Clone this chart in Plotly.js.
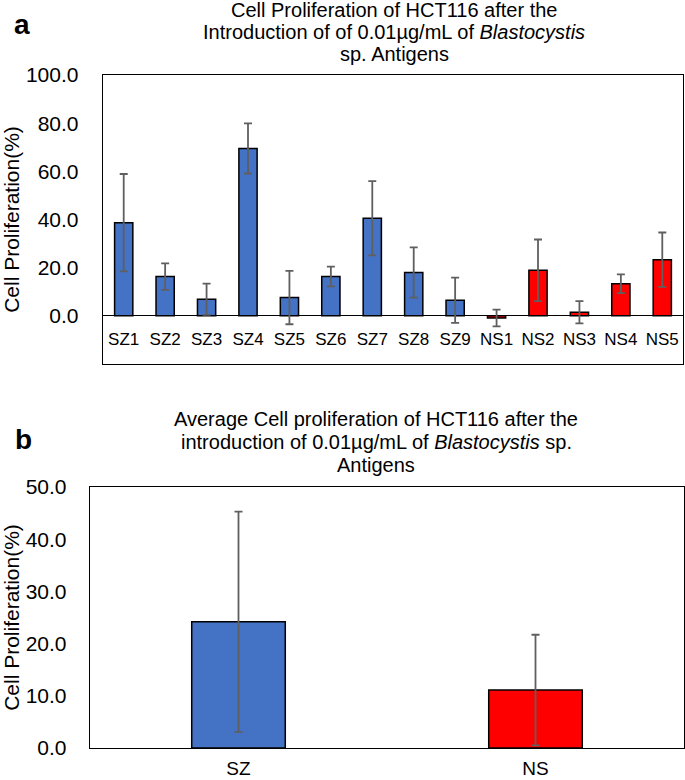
<!DOCTYPE html>
<html>
<head>
<meta charset="utf-8">
<script src="https://cdn.plot.ly/plotly-3.0.1.min.js"></script>
<style>html,body{margin:0;padding:0;background:#fff;}#chart{width:685px;height:780px;}</style>
</head>
<body>
<div id="chart"></div>
<script>
// ---- Panel a data ----
const szCategories = ["SZ1","SZ2","SZ3","SZ4","SZ5","SZ6","SZ7","SZ8","SZ9"];
const szValues     = [38.7, 16.3, 6.9, 69.5, 7.6, 16.3, 40.5, 18.0, 6.5];
const szErrors     = [20.2, 5.5, 6.5, 10.4, 11.1, 4.1, 15.4, 10.4, 9.4];
const nsCategories = ["NS1","NS2","NS3","NS4","NS5"];
const nsValues     = [-0.9, 18.9, 1.5, 13.3, 23.3];
const nsErrors     = [3.5, 12.8, 4.6, 3.9, 11.3];
const yTickValsA   = [-20, 0, 20, 40, 60, 80, 100];
const yTickTextA   = ["-20.0","0.0","20.0","40.0","60.0","80.0","100.0"];

// ---- Panel b data ----
const groupCategories = ["SZ","NS"];
const groupValues     = [24.2, 11.1];
const groupErrors     = [21.1, 10.6];
const yTickValsB      = [0, 10, 20, 30, 40, 50];
const yTickTextB      = ["0.0","10.0","20.0","30.0","40.0","50.0"];

const titleA = ["Cell Proliferation of HCT116 after the",
                "Introduction of of 0.01µg/mL of <i>Blastocystis</i>",
                "sp. Antigens"];
const titleB = ["Average Cell proliferation of HCT116 after the",
                "introduction of 0.01µg/mL of <i>Blastocystis</i> sp.",
                "Antigens"];

const BLUE = "#4472C4", RED = "#FF0000", ERR = "#5f5f5f";
const FONT = "Liberation Sans, Arial, sans-serif";
const W = 685, H = 780;
const px = v => v / W, py = v => 1 - v / H;

const errStyle = arr => ({type:"data", array:arr, visible:true, color:ERR, thickness:1.8, width:4});
const lineStyle = {color:"#000", width:1.5};

const traces = [
  {type:"bar", x:szCategories, y:szValues, xaxis:"x", yaxis:"y", width:0.44,
   marker:{color:BLUE, line:lineStyle}, error_y:errStyle(szErrors), showlegend:false},
  {type:"bar", x:nsCategories, y:nsValues, xaxis:"x", yaxis:"y", width:0.44,
   marker:{color:RED, line:lineStyle}, error_y:errStyle(nsErrors), showlegend:false},
  {type:"bar", x:[groupCategories[0]], y:[groupValues[0]], xaxis:"x2", yaxis:"y2", width:0.315,
   marker:{color:BLUE, line:lineStyle}, error_y:errStyle([groupErrors[0]]), showlegend:false},
  {type:"bar", x:[groupCategories[1]], y:[groupValues[1]], xaxis:"x2", yaxis:"y2", width:0.315,
   marker:{color:RED, line:lineStyle}, error_y:errStyle([groupErrors[1]]), showlegend:false}
];

const allCatsA = szCategories.concat(nsCategories);

const annotations = [];
const titleYA = [10, 32, 54];
titleA.forEach((t,i)=>annotations.push({text:t, xref:"paper", yref:"paper", x:px(394), y:py(titleYA[i]),
  xanchor:"center", yanchor:"middle", showarrow:false, font:{family:FONT, size:20, color:"#000"}}));
const titleYB = [419, 442, 465];
titleB.forEach((t,i)=>annotations.push({text:t, xref:"paper", yref:"paper", x:px(376), y:py(titleYB[i]),
  xanchor:"center", yanchor:"middle", showarrow:false, font:{family:FONT, size:20, color:"#000"}}));
annotations.push({text:"<b>a</b>", xref:"paper", yref:"paper", x:px(22), y:py(24), xanchor:"center", yanchor:"middle",
  showarrow:false, font:{family:FONT, size:28, color:"#000"}});
annotations.push({text:"<b>b</b>", xref:"paper", yref:"paper", x:px(23), y:py(439), xanchor:"center", yanchor:"middle",
  showarrow:false, font:{family:FONT, size:28, color:"#000"}});

const layout = {
  width:W, height:H, margin:{l:0,r:0,t:0,b:0}, paper_bgcolor:"#fff", plot_bgcolor:"#fff",
  barmode:"overlay", showlegend:false, font:{family:FONT, color:"#000"},
  xaxis:{domain:[px(103), px(683)], anchor:"y", type:"category", categoryorder:"array", categoryarray:allCatsA,
    range:[-0.5, 13.5], showgrid:false, zeroline:false, showline:true, mirror:true, linecolor:"#000", linewidth:1.3,
    ticks:"", ticklabelposition:"inside", ticklabelstandoff:16, tickfont:{family:FONT, size:17, color:"#000"}, automargin:false},
  yaxis:{domain:[py(364), py(75)], anchor:"x", range:[-20,100], tickmode:"array", tickvals:yTickValsA, ticktext:yTickTextA,
    showgrid:false, zeroline:true, zerolinecolor:"#000", zerolinewidth:1.3, showline:true, mirror:true, linecolor:"#000", linewidth:1.3,
    ticks:"", ticklabelstandoff:19, tickfont:{family:FONT, size:21, color:"#000"}, automargin:false,
    title:{text:"Cell Proliferation(%)", standoff:6, font:{family:FONT, size:21, color:"#000"}}},
  xaxis2:{domain:[px(90), px(684)], anchor:"y2", type:"category", categoryorder:"array", categoryarray:groupCategories,
    range:[-0.5, 1.5], showgrid:false, zeroline:false, showline:true, mirror:true, linecolor:"#000", linewidth:1.3,
    ticks:"", ticklabelstandoff:3, tickfont:{family:FONT, size:19, color:"#000"}, automargin:false},
  yaxis2:{domain:[py(748), py(487)], anchor:"x2", range:[0,50], tickmode:"array", tickvals:yTickValsB, ticktext:yTickTextB,
    showgrid:false, zeroline:false, showline:true, mirror:true, linecolor:"#000", linewidth:1.3,
    ticks:"", ticklabelstandoff:18, tickfont:{family:FONT, size:21, color:"#000"}, automargin:false,
    title:{text:"Cell Proliferation(%)", standoff:6, font:{family:FONT, size:21, color:"#000"}}},
  annotations:annotations
};

Plotly.newPlot("chart", traces, layout, {staticPlot:true, displayModeBar:false});
</script>
</body>
</html>
